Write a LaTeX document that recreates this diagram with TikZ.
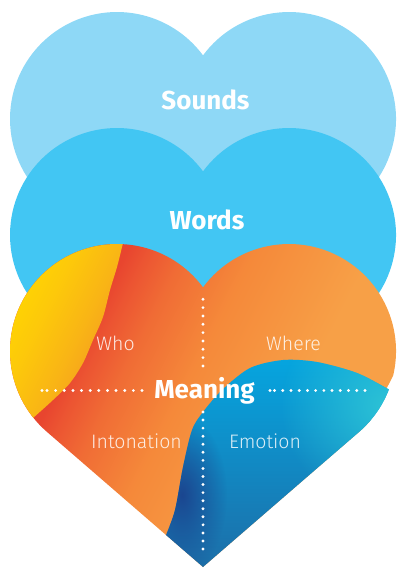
\documentclass[tikz,border=0pt]{standalone}
\usepackage{fontspec}
\setmainfont{Fira Sans}
\newfontfamily\lightfont{Fira Sans Light}
\usetikzlibrary{fadings}
\definecolor{soundsc}{HTML}{8ED8F6}
\definecolor{wordsc}{HTML}{42C6F3}
\definecolor{or0}{HTML}{E8452F}
\definecolor{or1}{HTML}{EC5532}
\definecolor{or2}{HTML}{F06C35}
\definecolor{or3}{HTML}{F5893A}
\definecolor{or4}{HTML}{F7A047}
\definecolor{ye0}{HTML}{FFD700}
\definecolor{ye1}{HTML}{FDC90A}
\definecolor{ye2}{HTML}{F9B515}
\definecolor{ye3}{HTML}{F7AA1A}
\definecolor{bl0}{HTML}{05A6E0}
\definecolor{bl1}{HTML}{1484C0}
\definecolor{bl2}{HTML}{1D6DA7}
\definecolor{cyanc}{HTML}{2CC2D6}
\definecolor{navyc}{HTML}{1B4690}
\pgfdeclarehorizontalshading{orangesh}{100bp}{color(0bp)=(or0); color(42.3bp)=(or0); color(44.5bp)=(or1); color(48.2bp)=(or2); color(55bp)=(or3); color(66.7bp)=(or4); color(100bp)=(or4)}
\pgfdeclarehorizontalshading{yellowsh}{100bp}{color(0bp)=(ye0); color(32.8bp)=(ye0); color(37.2bp)=(ye1); color(41.7bp)=(ye2); color(43.6bp)=(ye3); color(100bp)=(ye3)}
\tikzfading[name=glowfade, inner color=transparent!0, outer color=transparent!100]
\newcommand{\heartpath}[1]{(203,{#1+216}) -- (46.95,{#1+80.89}) arc[start angle=130.9, end angle=323.5, radius=107] arc[start angle=216.5, end angle=409.1, radius=107] -- cycle}
\begin{document}
\begin{tikzpicture}[x=1pt,y=-1pt,
  dots/.style={white, line width=3.2pt, line cap=round, dash pattern=on 0pt off #1},
  dots/.default=8.33pt,
  biglabel/.style={text=white, font=\fontsize{26}{26}\selectfont\bfseries, inner sep=0pt, anchor=base},
  smalllabel/.style={text=white, text opacity=0.85, font=\fontsize{19.5}{19.5}\selectfont\lightfont, inner sep=0pt, anchor=base}]
\useasboundingbox (0,0) rectangle (398,569);
\fill[soundsc] \heartpath{119};
\fill[wordsc] \heartpath{235};
\begin{scope}
  \clip \heartpath{351};
  \begin{scope}[transform canvas={shift={(123,245)}, rotate=-27}]
    \shade[shading=orangesh] (-150,-350) rectangle (300,350);
  \end{scope}
  \begin{scope}
    \clip plot[smooth] coordinates {(126,230) (123,243) (117,267) (110,290) (103,317) (93,340) (83,363) (70,383) (53,400) (33,418) (15,434)} -- (-5,450) -- (-5,225) -- cycle;
    \begin{scope}[transform canvas={shift={(123,245)}, rotate=-27}]
      \shade[shading=yellowsh] (-150,-350) rectangle (300,350);
    \end{scope}
  \end{scope}
  \begin{scope}
    \clip plot[smooth] coordinates {(158,558) (165,538) (175,510) (183,467) (192,430) (203,412) (222,390) (250,368) (283,360) (317,362) (357,373) (390,390) (410,400)} -- (410,580) -- (158,580) -- cycle;
    \shade[top color=bl0, middle color=bl1, bottom color=bl2] (150,355) rectangle (400,570);
    \fill[cyanc, path fading=glowfade] (385,405) circle (105);
    \fill[navyc, path fading=glowfade] (182,495) ellipse (45 and 80);
  \end{scope}
\end{scope}
\node[biglabel] (sounds) at (205.5,110) {Sounds};
\node[biglabel] (words) at (207,229.5) {Words};
\node[biglabel] (meaning) at (204.5,398.5) {Meaning};
\node[smalllabel] (who) at (115.5,350.5) {Who};
\node[smalllabel] (where) at (293.5,350.5) {Where};
\node[smalllabel] (inton) at (136.5,448) {Intonation};
\node[smalllabel] (emot) at (265,448) {Emotion};
\coordinate (vta) at (203,299.3);
\coordinate (vtb) at (203,366);
\coordinate (hl0) at (42,390.5);
\coordinate (hla) at (47,390.5);
\coordinate (hlb) at (142,390.5);
\coordinate (hr0) at (270,390.5);
\coordinate (hra) at (274.5,390.5);
\coordinate (hrb) at (365,390.5);
\coordinate (vba) at (203,412);
\coordinate (vbb) at (203,557);
\draw[dots] (vta) -- (vtb);
\draw[dots=8.636pt] (hla) -- (hlb);
\draw[dots=8.227pt] (hra) -- (hrb);
\draw[dots=8.06pt] (vba) -- (vbb);
\draw[dots] (hl0) -- ++(0.01,0);
\draw[dots] (hr0) -- ++(0.01,0);
\end{tikzpicture}
\end{document}
